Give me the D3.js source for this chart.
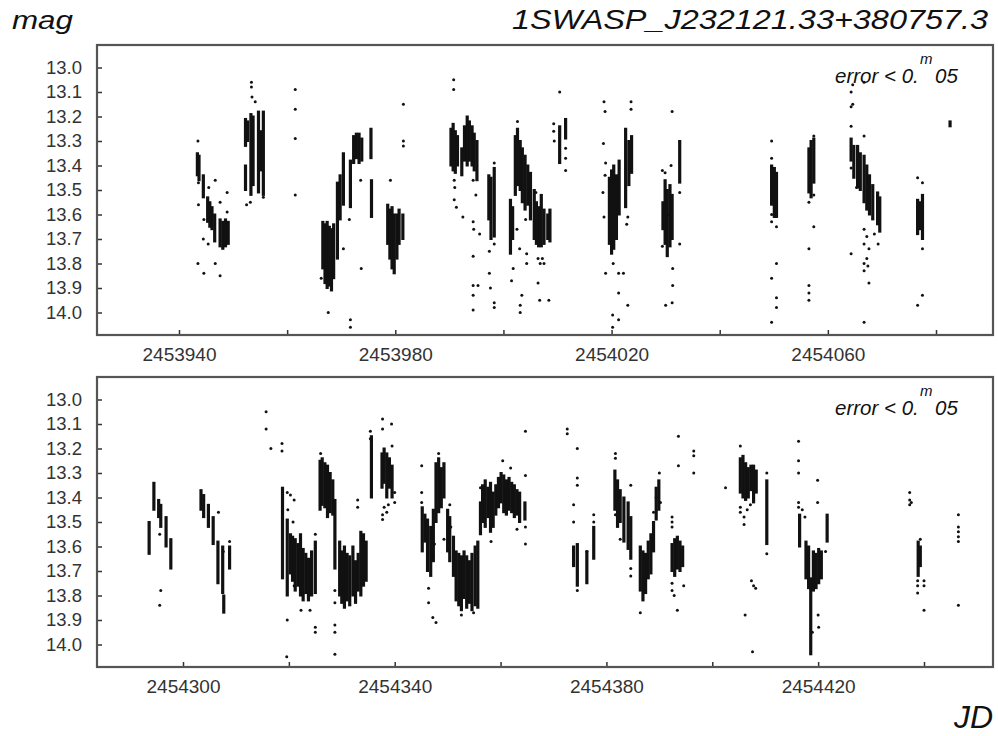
<!DOCTYPE html>
<html lang="en">
<head>
  <meta charset="UTF-8">
  <title>1SWASP_J232121.33+380757.3</title>
  <style type="text/css">
    body { margin: 0px; background: #fff; }
    svg { font-family: "Liberation Sans", Arial, sans-serif; }
    .domain { display: none; }
    .tick line { stroke: #333; stroke-width: 1.5; }
    .tick text { fill: #333; }
    .y-axis .tick text { font-size: 18.5px; }
    .x-axis .tick text { font-size: 19px; }
    .frame { fill: none; stroke: #555; stroke-width: 2.2; }
    .run { stroke: #111; stroke-width: 3.2; }
    .dot { fill: #111; }
    .lbl { font-style: italic; fill: #111; }
  </style>
  <script src="https://d3js.org/d3.v7.min.js"></script>
</head>
<body>
<svg width="998" height="736"></svg>
<script>

// magnitude ticks, shared by both panels
const magTicks = [13.0, 13.1, 13.2, 13.3, 13.4, 13.5, 13.6, 13.7, 13.8, 13.9, 14.0];

// JD ticks (every 20 d), labels every 40 d
const topJdTicks = [2453940, 2453960, 2453980, 2454000, 2454020, 2454040, 2454060, 2454080];
const topJdLabels = [2453940, 2453980, 2454020, 2454060];
const bottomJdTicks = [2454300, 2454320, 2454340, 2454360, 2454380, 2454400, 2454420, 2454440];
const bottomJdLabels = [2454300, 2454340, 2454380, 2454420];

// dense stretches of one night: [JD, brightest mag, faintest mag]
const topRuns = [
  [2453943.4, 13.35, 13.44], [2453943.7, 13.36, 13.46], [2453944.5, 13.44, 13.53],
  [2453945.3, 13.53, 13.63], [2453945.7, 13.55, 13.65], [2453946.1, 13.57, 13.66],
  [2453946.6, 13.60, 13.71], [2453947.6, 13.62, 13.73], [2453948.1, 13.63, 13.74],
  [2453948.6, 13.62, 13.73], [2453949.1, 13.63, 13.72],
  [2453952.3, 13.21, 13.32], [2453952.3, 13.40, 13.50], [2453952.7, 13.22, 13.30],
  [2453953.3, 13.19, 13.52], [2453953.7, 13.20, 13.48], [2453954.7, 13.18, 13.51],
  [2453955.1, 13.26, 13.42], [2453955.6, 13.18, 13.52],
  [2453966.6, 13.63, 13.82], [2453967.0, 13.64, 13.88], [2453967.4, 13.63, 13.90],
  [2453967.8, 13.65, 13.89], [2453968.2, 13.66, 13.91], [2453968.6, 13.64, 13.86],
  [2453969.3, 13.47, 13.78], [2453969.8, 13.44, 13.62], [2453970.4, 13.35, 13.56],
  [2453971.7, 13.38, 13.57], [2453972.3, 13.28, 13.39], [2453972.8, 13.27, 13.37],
  [2453973.3, 13.27, 13.39], [2453973.8, 13.29, 13.38],
  [2453975.5, 13.25, 13.37], [2453975.6, 13.46, 13.61],
  [2453978.6, 13.56, 13.72], [2453979.0, 13.58, 13.78], [2453979.4, 13.57, 13.82],
  [2453979.8, 13.60, 13.84], [2453980.3, 13.60, 13.78], [2453980.7, 13.58, 13.72],
  [2453981.4, 13.60, 13.70],
  [2453990.3, 13.25, 13.40], [2453990.7, 13.23, 13.42], [2453991.1, 13.26, 13.43],
  [2453991.5, 13.28, 13.40], [2453992.3, 13.33, 13.44], [2453992.8, 13.24, 13.38],
  [2453993.3, 13.20, 13.40], [2453993.7, 13.22, 13.38], [2453994.2, 13.24, 13.40],
  [2453994.6, 13.27, 13.42], [2453995.1, 13.30, 13.46],
  [2453997.3, 13.44, 13.62], [2453997.7, 13.45, 13.70], [2453998.3, 13.41, 13.69],
  [2454001.3, 13.54, 13.76], [2454001.7, 13.57, 13.70], [2454002.2, 13.28, 13.52],
  [2454002.6, 13.25, 13.48], [2454003.1, 13.30, 13.50], [2454003.5, 13.33, 13.55],
  [2454004.0, 13.36, 13.58], [2454004.5, 13.40, 13.56], [2454005.0, 13.43, 13.62],
  [2454005.7, 13.50, 13.70], [2454006.1, 13.55, 13.72], [2454006.5, 13.57, 13.73],
  [2454007.0, 13.52, 13.73], [2454007.5, 13.58, 13.72], [2454008.2, 13.60, 13.70],
  [2454008.6, 13.58, 13.71],
  [2454010.4, 13.24, 13.39], [2454011.5, 13.21, 13.29],
  [2454019.6, 13.45, 13.72], [2454020.0, 13.42, 13.76], [2454020.4, 13.40, 13.74],
  [2454020.9, 13.44, 13.70], [2454021.4, 13.38, 13.60], [2454022.6, 13.25, 13.57],
  [2454023.2, 13.30, 13.48], [2454023.7, 13.28, 13.43],
  [2454029.5, 13.55, 13.66], [2454029.9, 13.46, 13.72], [2454030.3, 13.50, 13.77],
  [2454030.8, 13.48, 13.73], [2454031.2, 13.52, 13.70], [2454032.6, 13.30, 13.47],
  [2454049.6, 13.40, 13.56], [2454050.1, 13.41, 13.61], [2454050.5, 13.43, 13.61],
  [2454056.5, 13.33, 13.51], [2454056.9, 13.30, 13.53], [2454057.4, 13.29, 13.47],
  [2454064.3, 13.29, 13.38], [2454064.8, 13.32, 13.45], [2454065.5, 13.32, 13.49],
  [2454066.0, 13.35, 13.50], [2454066.7, 13.36, 13.55], [2454067.2, 13.40, 13.58],
  [2454067.7, 13.44, 13.60], [2454068.3, 13.48, 13.62], [2454069.2, 13.51, 13.64],
  [2454069.6, 13.53, 13.67],
  [2454076.6, 13.54, 13.68], [2454077.1, 13.55, 13.66], [2454077.5, 13.52, 13.70],
  [2454082.6, 13.22, 13.24]
];

// single scattered points: [JD, mag]
const topDots = [
  [2453943.5, 13.30], [2453943.6, 13.47], [2453943.6, 13.56], [2453943.5, 13.80],
  [2453944.6, 13.62], [2453944.5, 13.70], [2453944.6, 13.84], [2453945.5, 13.49],
  [2453945.4, 13.72], [2453946.7, 13.46], [2453947.6, 13.55], [2453946.7, 13.80],
  [2453948.9, 13.51], [2453948.9, 13.59], [2453947.6, 13.85],
  [2453953.4, 13.06], [2453953.4, 13.08], [2453953.5, 13.12], [2453954.1, 13.14],
  [2453952.5, 13.56], [2453953.2, 13.55], [2453955.6, 13.53],
  [2453961.5, 13.09], [2453961.5, 13.17], [2453961.5, 13.29], [2453961.5, 13.52],
  [2453967.6, 14.00], [2453966.3, 13.86], [2453970.4, 13.74], [2453971.7, 14.03],
  [2453971.7, 14.06], [2453971.5, 13.62], [2453973.6, 13.46], [2453973.7, 13.82],
  [2453979.1, 13.46], [2453981.5, 13.15], [2453981.5, 13.30], [2453981.5, 13.32],
  [2453990.8, 13.05], [2453990.8, 13.09], [2453990.9, 13.46], [2453991.0, 13.49],
  [2453990.9, 13.54], [2453991.3, 13.57], [2453992.5, 13.61], [2453994.4, 13.46],
  [2453994.9, 13.52], [2453994.4, 13.63], [2453994.5, 13.66], [2453995.6, 13.68],
  [2453994.4, 13.77], [2453994.4, 13.89], [2453994.4, 13.93], [2453995.3, 13.89],
  [2453994.4, 13.99],
  [2453998.3, 13.39], [2453997.4, 13.75], [2453997.4, 13.84], [2453997.6, 13.90],
  [2453998.3, 13.96], [2453998.3, 13.98], [2453998.3, 13.72],
  [2454001.8, 13.82], [2454001.5, 13.87], [2454002.6, 13.22], [2454002.5, 13.66],
  [2454003.0, 13.74], [2454003.4, 13.93], [2454003.1, 13.97], [2454003.1, 14.00],
  [2454004.1, 13.62], [2454004.3, 13.76], [2454004.3, 13.80],
  [2454006.0, 13.51], [2454006.4, 13.78], [2454006.8, 13.80], [2454007.2, 13.78],
  [2454007.5, 13.80], [2454006.4, 13.88], [2454006.7, 13.95], [2454008.4, 13.95],
  [2454009.3, 13.23], [2454009.3, 13.26], [2454009.4, 13.30], [2454010.4, 13.10],
  [2454011.5, 13.33], [2454011.5, 13.37], [2454011.5, 13.42],
  [2454018.6, 13.14], [2454018.8, 13.18], [2454018.5, 13.31], [2454018.9, 13.39],
  [2454018.8, 13.44], [2454018.4, 13.51], [2454018.6, 13.61], [2454018.9, 13.84],
  [2454020.3, 13.80], [2454021.3, 13.84], [2454022.2, 13.84], [2454021.3, 13.92],
  [2454023.0, 13.97], [2454020.2, 14.01], [2454021.3, 14.03], [2454020.2, 14.06],
  [2454023.6, 13.14], [2454023.6, 13.17], [2454023.0, 13.61], [2454022.8, 13.64],
  [2454029.4, 13.42], [2454029.9, 13.43], [2454031.2, 13.18], [2454031.0, 13.40],
  [2454030.4, 13.60], [2454029.4, 13.73], [2454031.3, 13.82], [2454031.3, 13.89],
  [2454030.0, 13.97], [2454031.2, 13.96], [2454032.6, 13.51], [2454032.6, 13.72],
  [2454049.6, 13.30], [2454049.6, 13.37], [2454049.6, 13.60], [2454049.6, 13.63],
  [2454050.5, 13.65], [2454050.5, 13.80], [2454049.6, 13.86], [2454050.5, 13.94],
  [2454050.5, 13.98], [2454049.6, 14.04],
  [2454056.5, 13.55], [2454057.4, 13.52], [2454057.4, 13.65], [2454056.5, 13.74],
  [2454056.5, 13.89], [2454056.5, 13.92], [2454056.5, 13.95], [2454057.4, 13.28],
  [2454064.3, 13.10], [2454064.6, 13.07], [2454064.3, 13.16], [2454064.6, 13.15],
  [2454066.7, 13.06], [2454064.3, 13.24], [2454066.7, 13.28], [2454064.3, 13.41],
  [2454065.3, 13.49], [2454066.7, 13.66], [2454067.2, 13.69], [2454066.7, 13.72],
  [2454067.6, 13.74], [2454067.2, 13.78], [2454066.7, 13.80], [2454067.4, 13.81],
  [2454066.7, 13.83], [2454064.3, 13.76], [2454067.6, 13.88], [2454066.7, 14.04],
  [2454068.6, 13.68], [2454069.3, 13.72],
  [2454076.6, 13.45], [2454077.5, 13.47], [2454077.5, 13.74], [2454076.6, 13.97],
  [2454077.5, 13.93]
];

const bottomRuns = [
  [2454293.6, 13.50, 13.63], [2454294.5, 13.34, 13.45], [2454295.4, 13.41, 13.48],
  [2454295.8, 13.43, 13.52], [2454296.8, 13.48, 13.60], [2454297.7, 13.57, 13.69],
  [2454303.4, 13.37, 13.45], [2454303.9, 13.39, 13.48], [2454304.8, 13.43, 13.52],
  [2454305.7, 13.48, 13.59], [2454306.6, 13.58, 13.75], [2454307.5, 13.60, 13.79],
  [2454307.7, 13.80, 13.87], [2454308.8, 13.60, 13.69],
  [2454318.8, 13.36, 13.73], [2454319.7, 13.49, 13.80], [2454320.3, 13.55, 13.71],
  [2454320.7, 13.56, 13.74], [2454321.2, 13.57, 13.78], [2454321.7, 13.59, 13.76],
  [2454322.2, 13.55, 13.80], [2454322.7, 13.61, 13.82], [2454323.2, 13.63, 13.79],
  [2454323.7, 13.65, 13.82], [2454324.3, 13.62, 13.80], [2454325.0, 13.58, 13.79],
  [2454325.9, 13.25, 13.45], [2454326.3, 13.24, 13.43], [2454326.8, 13.26, 13.44],
  [2454327.3, 13.27, 13.48], [2454327.8, 13.30, 13.46], [2454328.3, 13.33, 13.47],
  [2454328.7, 13.41, 13.69], [2454329.6, 13.58, 13.80], [2454330.0, 13.62, 13.83],
  [2454330.5, 13.60, 13.85], [2454331.0, 13.63, 13.82], [2454331.5, 13.64, 13.84],
  [2454332.1, 13.60, 13.80], [2454332.6, 13.66, 13.83], [2454333.1, 13.63, 13.78],
  [2454333.6, 13.54, 13.80], [2454334.1, 13.55, 13.76], [2454334.6, 13.58, 13.74],
  [2454335.6, 13.15, 13.40], [2454337.6, 13.22, 13.36], [2454338.0, 13.20, 13.34],
  [2454338.5, 13.22, 13.40], [2454339.0, 13.24, 13.36], [2454339.5, 13.27, 13.40],
  [2454345.2, 13.44, 13.62], [2454345.7, 13.47, 13.58], [2454346.2, 13.49, 13.70],
  [2454346.8, 13.52, 13.72], [2454347.3, 13.45, 13.66], [2454347.8, 13.26, 13.50],
  [2454348.3, 13.24, 13.46], [2454348.8, 13.28, 13.44], [2454349.3, 13.26, 13.40],
  [2454350.0, 13.45, 13.62], [2454350.4, 13.48, 13.66], [2454351.1, 13.56, 13.72],
  [2454351.6, 13.62, 13.82], [2454352.1, 13.63, 13.84], [2454352.6, 13.64, 13.86],
  [2454353.1, 13.62, 13.81], [2454353.6, 13.64, 13.85], [2454354.1, 13.66, 13.83],
  [2454354.6, 13.63, 13.86], [2454355.2, 13.60, 13.84], [2454355.7, 13.58, 13.85],
  [2454356.2, 13.42, 13.55], [2454356.6, 13.35, 13.50], [2454357.1, 13.33, 13.52],
  [2454357.6, 13.36, 13.48], [2454358.1, 13.34, 13.54], [2454358.6, 13.38, 13.52],
  [2454359.1, 13.35, 13.47], [2454359.6, 13.32, 13.44], [2454360.1, 13.30, 13.42],
  [2454360.6, 13.31, 13.46], [2454361.1, 13.33, 13.47], [2454361.6, 13.32, 13.45],
  [2454362.1, 13.34, 13.46], [2454362.6, 13.35, 13.48], [2454363.1, 13.37, 13.47],
  [2454363.6, 13.38, 13.50], [2454364.6, 13.42, 13.49],
  [2454373.8, 13.60, 13.68], [2454374.5, 13.59, 13.76], [2454376.3, 13.62, 13.75],
  [2454377.6, 13.52, 13.65],
  [2454381.6, 13.29, 13.45], [2454382.1, 13.33, 13.52], [2454382.6, 13.37, 13.50],
  [2454383.3, 13.40, 13.58], [2454384.1, 13.42, 13.61], [2454384.6, 13.48, 13.65],
  [2454386.4, 13.60, 13.78], [2454386.9, 13.62, 13.82], [2454387.4, 13.63, 13.79],
  [2454387.9, 13.58, 13.73], [2454388.4, 13.55, 13.71], [2454388.9, 13.50, 13.62],
  [2454389.4, 13.36, 13.49], [2454389.9, 13.33, 13.45],
  [2454392.4, 13.59, 13.70], [2454392.9, 13.57, 13.72], [2454393.4, 13.56, 13.69],
  [2454393.9, 13.58, 13.70], [2454394.4, 13.60, 13.68],
  [2454405.3, 13.24, 13.38], [2454405.8, 13.23, 13.40], [2454406.3, 13.26, 13.41],
  [2454406.8, 13.28, 13.40], [2454407.3, 13.27, 13.37], [2454407.8, 13.27, 13.42],
  [2454408.3, 13.29, 13.38], [2454410.3, 13.33, 13.59],
  [2454416.5, 13.47, 13.60], [2454417.7, 13.58, 13.73], [2454418.2, 13.60, 13.77],
  [2454418.6, 13.73, 14.04], [2454419.1, 13.62, 13.78], [2454419.6, 13.63, 13.77],
  [2454420.1, 13.61, 13.75], [2454420.6, 13.62, 13.73], [2454421.7, 13.47, 13.58],
  [2454438.9, 13.58, 13.72], [2454439.3, 13.60, 13.68]
];

const bottomDots = [
  [2454295.6, 13.55], [2454295.8, 13.78], [2454295.6, 13.84], [2454306.7, 13.46],
  [2454307.6, 13.62], [2454308.8, 13.58],
  [2454315.7, 13.05], [2454315.7, 13.12], [2454316.6, 13.20],
  [2454318.7, 13.18], [2454318.7, 13.21], [2454319.7, 13.38], [2454320.3, 13.39],
  [2454321.0, 13.41], [2454319.8, 13.45], [2454320.8, 13.50], [2454319.7, 13.90],
  [2454319.6, 14.05], [2454324.0, 13.86], [2454325.0, 13.93], [2454325.0, 13.95],
  [2454325.0, 13.55], [2454322.3, 13.86], [2454321.0, 13.76], [2454326.0, 13.22],
  [2454327.3, 13.30],
  [2454328.7, 13.78], [2454328.7, 13.83], [2454328.7, 13.92], [2454328.7, 13.95],
  [2454328.7, 14.04], [2454333.0, 13.41], [2454333.0, 13.44], [2454335.4, 13.13],
  [2454335.4, 13.16], [2454337.7, 13.08], [2454337.7, 13.12], [2454338.0, 13.44],
  [2454337.7, 13.47], [2454337.7, 13.49], [2454339.4, 13.10], [2454338.8, 13.43],
  [2454338.5, 13.46], [2454340.0, 13.42], [2454340.0, 13.38], [2454339.5, 13.19],
  [2454345.1, 13.27], [2454345.1, 13.38], [2454345.1, 13.42], [2454346.4, 13.77],
  [2454346.4, 13.83], [2454347.2, 13.89], [2454347.8, 13.91], [2454347.2, 13.64],
  [2454347.5, 13.59], [2454348.3, 13.22], [2454348.6, 13.32], [2454349.3, 13.57],
  [2454350.4, 13.43], [2454350.6, 13.52], [2454352.6, 13.88], [2454354.9, 13.87],
  [2454356.2, 13.36], [2454358.2, 13.58], [2454360.4, 13.25], [2454364.7, 13.13],
  [2454364.7, 13.31], [2454364.7, 13.52], [2454364.7, 13.59], [2454361.9, 13.28],
  [2454363.1, 13.53],
  [2454372.6, 13.12], [2454372.6, 13.14], [2454374.5, 13.20], [2454374.5, 13.32],
  [2454374.5, 13.35], [2454373.8, 13.43], [2454373.8, 13.50], [2454374.5, 13.78],
  [2454376.3, 13.62], [2454377.6, 13.50], [2454377.6, 13.47], [2454381.7, 13.22],
  [2454381.7, 13.24], [2454381.7, 13.47], [2454382.6, 13.57], [2454384.6, 13.35],
  [2454384.6, 13.72], [2454384.6, 13.69],
  [2454386.4, 13.87], [2454388.9, 13.46], [2454388.9, 13.52], [2454389.4, 13.40],
  [2454390.0, 13.30], [2454390.2, 13.42], [2454392.4, 13.48], [2454392.4, 13.50],
  [2454392.4, 13.52], [2454392.4, 13.75], [2454392.4, 13.78], [2454392.8, 13.80],
  [2454393.4, 13.86], [2454394.6, 13.76], [2454393.6, 13.15], [2454393.6, 13.27],
  [2454396.5, 13.21], [2454396.5, 13.23], [2454396.5, 13.30], [2454402.5, 13.36],
  [2454405.3, 13.19], [2454405.3, 13.44], [2454405.3, 13.46], [2454406.0, 13.48],
  [2454406.0, 13.51], [2454406.6, 13.45], [2454407.2, 13.43], [2454407.4, 13.74],
  [2454407.8, 13.76], [2454408.2, 13.77], [2454406.2, 13.88], [2454407.6, 14.03],
  [2454410.3, 13.30], [2454410.3, 13.63],
  [2454416.3, 13.17], [2454416.3, 13.25], [2454416.3, 13.30], [2454416.3, 13.42],
  [2454416.3, 13.44], [2454417.0, 13.45], [2454417.5, 13.48], [2454418.9, 13.95],
  [2454419.9, 13.33], [2454419.9, 13.42], [2454420.0, 13.88], [2454420.1, 13.93],
  [2454421.4, 13.62],
  [2454437.3, 13.38], [2454437.3, 13.41], [2454437.3, 13.43], [2454437.6, 13.42],
  [2454438.8, 13.74], [2454438.8, 13.76], [2454438.8, 13.79], [2454440.0, 13.74],
  [2454440.0, 13.76], [2454440.0, 13.86], [2454439.3, 13.57],
  [2454446.5, 13.47], [2454446.5, 13.52], [2454446.5, 13.54], [2454446.5, 13.56],
  [2454446.5, 13.58], [2454446.5, 13.84]
];

const svg = d3.select('svg');
const frameLeft = 97, frameRight = 993;

const panels = [
  { top: 45, bottom: 335, ticks: topJdTicks, labels: topJdLabels,
    x0: [2453940, 179], x1: [2454080, 936], runs: topRuns, dots: topDots },
  { top: 377, bottom: 667, ticks: bottomJdTicks, labels: bottomJdLabels,
    x0: [2454300, 183], x1: [2454440, 924], runs: bottomRuns, dots: bottomDots }
];

panels.forEach(p => {
  const x = d3.scaleLinear().domain([p.x0[0], p.x1[0]]).range([p.x0[1], p.x1[1]]);
  const y = d3.scaleLinear().domain([13.0, 14.0]).range([p.top + 22.5, p.top + 267.5]);

  const g = svg.append('g');

  g.selectAll('line.run').data(p.runs)
    .enter().append('line')
      .attr('class', 'run')
      .attr('x1', d => x(d[0])).attr('x2', d => x(d[0]))
      .attr('y1', d => y(d[1]) - 1).attr('y2', d => y(d[2]) + 1);

  g.selectAll('circle.dot').data(p.dots)
    .enter().append('circle')
      .attr('class', 'dot')
      .attr('cx', d => x(d[0]))
      .attr('cy', d => y(d[1]))
      .attr('r', 1.5);

  const labelSet = new Set(p.labels);
  g.append('g')
    .attr('class', 'x-axis')
    .attr('transform', `translate(0,${p.bottom})`)
    .call(d3.axisBottom(x).tickValues(p.ticks).tickSize(-5).tickPadding(13)
      .tickFormat(d => labelSet.has(d) ? d : ''));

  g.append('g')
    .attr('class', 'y-axis')
    .attr('transform', `translate(${frameLeft},0)`)
    .call(d3.axisLeft(y).tickValues(magTicks).tickSize(-5).tickPadding(15)
      .tickFormat(d3.format('.1f')));

  g.append('rect')
    .attr('class', 'frame')
    .attr('x', frameLeft).attr('y', p.top)
    .attr('width', frameRight - frameLeft).attr('height', p.bottom - p.top);

  // error note with the superscript m over the decimal point
  const note = g.append('text')
    .attr('class', 'lbl')
    .attr('x', 835).attr('y', p.top + 38)
    .style('font-size', '20.5px');
  note.append('tspan').text('error < 0.');
  note.append('tspan').attr('x', 935).text('05');
  g.append('text')
    .attr('class', 'lbl')
    .attr('x', 920).attr('y', p.top + 19)
    .style('font-size', '15px')
    .text('m');
});

svg.append('text')
  .attr('class', 'lbl')
  .attr('x', 12).attr('y', 29)
  .attr('textLength', 61).attr('lengthAdjust', 'spacingAndGlyphs')
  .style('font-size', '25px')
  .text('mag');

svg.append('text')
  .attr('class', 'lbl')
  .attr('x', 512).attr('y', 29)
  .attr('textLength', 476).attr('lengthAdjust', 'spacingAndGlyphs')
  .style('font-size', '28px')
  .text('1SWASP_J232121.33+380757.3');

svg.append('text')
  .attr('class', 'lbl')
  .attr('x', 993).attr('y', 728)
  .attr('text-anchor', 'end')
  .style('font-size', '32px')
  .text('JD');

</script>
</body>
</html>
